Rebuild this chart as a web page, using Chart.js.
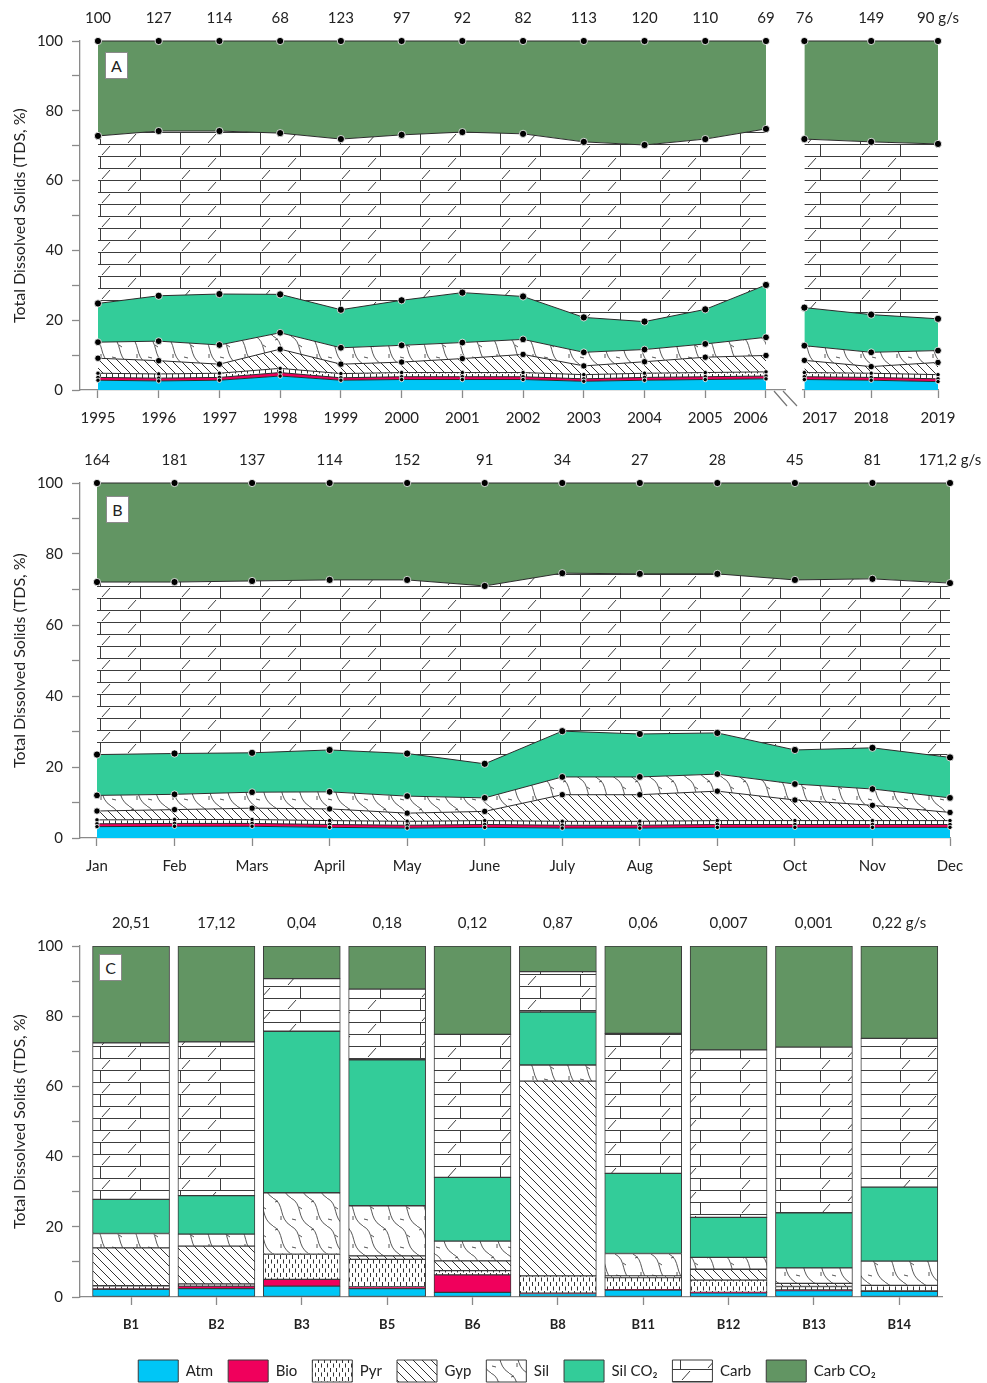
<!DOCTYPE html>
<html>
<head>
<meta charset="utf-8">
<script src="https://cdn.jsdelivr.net/npm/chart.js@4.4.1/dist/chart.umd.min.js"></script>
<style>
    body { margin: 0; background: #fff; width: 987px; height: 1383px; position: relative; overflow: hidden; font-family: Lato, "Open Sans", sans-serif; }
    canvas { position: absolute; }
    .panel-tag { position: absolute; width: 21px; height: 25px; border: 1px solid #8a8a8a; background: #fff; font-size: 16px; line-height: 25px; text-align: center; color: #222; }
</style>
</head>
<body>
<canvas id="chartA1" width="840" height="440" style="left:0;top:0"></canvas>
<canvas id="chartA2" width="227" height="440" style="left:760px;top:0"></canvas>
<canvas id="breakMarks" width="40" height="30" style="left:765px;top:385px"></canvas>
<canvas id="chartB" width="1040" height="446" style="left:0;top:442px"></canvas>
<canvas id="chartC" width="987" height="457" style="left:0;top:890px"></canvas>
<canvas id="legendC" width="974" height="120" style="left:20px;top:1345px"></canvas>
<div class="panel-tag" style="left:105px;top:52px">A</div>
<div class="panel-tag" style="left:106px;top:496px">B</div>
<div class="panel-tag" style="left:99px;top:954px">C</div>

<script>
// 1. Data (% of TDS per source, bottom layer first)
// Panel A: yearly, 1995-2006 then 2017-2019
const yearsA = [1995, 1996, 1997, 1998, 1999, 2000, 2001, 2002, 2003, 2004, 2005, 2006, 2017, 2018, 2019];
const flowA = ['100', '127', '114', '68', '123', '97', '92', '82', '113', '120', '110', '69', '76', '149', '90 g/s'];
const atmA = [2.8, 2.6, 2.8, 4.0, 2.8, 3.0, 3.0, 3.0, 2.5, 2.8, 3.0, 3.2, 3.0, 2.8, 2.4];
const bioA = [0.8, 0.8, 0.8, 1.0, 0.7, 0.8, 0.8, 0.8, 0.7, 0.8, 0.8, 0.8, 0.8, 0.8, 0.8];
const pyrA = [1.2, 1.2, 1.2, 1.2, 1.2, 1.2, 1.2, 1.2, 1.2, 1.2, 1.2, 1.2, 1.2, 1.2, 1.2];
const gypA = [4.3, 3.8, 2.6, 5.5, 2.7, 3.0, 4.0, 5.2, 2.5, 3.3, 4.4, 4.7, 3.5, 1.9, 3.5];
const silA = [4.6, 5.6, 5.5, 4.7, 4.7, 4.8, 4.6, 4.3, 3.9, 3.5, 3.8, 5.2, 4.2, 4.1, 3.4];
const silCo2A = [11.1, 13.0, 14.6, 11.0, 10.9, 12.9, 14.3, 12.3, 10.0, 8.0, 9.9, 15.0, 10.9, 10.8, 9.1];
const carbA = [48.0, 47.2, 46.7, 46.2, 48.9, 47.4, 46.0, 46.6, 50.3, 50.6, 48.8, 44.7, 48.3, 49.5, 50.1];
const carbCo2A = [27.2, 25.8, 25.8, 26.4, 28.1, 26.9, 26.1, 26.6, 28.9, 29.8, 28.1, 25.2, 28.1, 28.9, 29.5];

// Panel B: monthly
const months = ['Jan', 'Feb', 'Mars', 'April', 'May', 'June', 'July', 'Aug', 'Sept', 'Oct', 'Nov', 'Dec'];
const flowB = ['164', '181', '137', '114', '152', '91', '34', '27', '28', '45', '81', '171,2 g/s'];
const atmB = [3.2, 3.3, 3.3, 3.0, 2.8, 3.0, 2.8, 2.8, 3.0, 3.0, 3.0, 3.0];
const bioB = [0.8, 0.8, 0.8, 0.8, 0.8, 0.8, 0.8, 0.8, 0.8, 0.8, 0.8, 0.8];
const pyrB = [1.1, 1.1, 1.1, 1.1, 1.1, 1.1, 1.1, 1.1, 1.1, 1.1, 1.1, 1.1];
const gypB = [2.5, 2.8, 3.2, 3.3, 2.3, 2.6, 7.5, 7.5, 8.3, 5.8, 4.3, 2.3];
const silB = [4.4, 4.3, 4.5, 4.8, 4.8, 3.8, 5.0, 5.0, 4.8, 4.5, 4.6, 4.1];
const silCo2B = [11.5, 11.5, 11.1, 11.8, 12.0, 9.6, 12.9, 12.1, 11.6, 9.6, 11.6, 11.4];
const carbB = [48.6, 48.3, 48.4, 47.9, 48.9, 50.1, 44.5, 45.1, 44.8, 47.9, 47.6, 49.1];
const carbCo2B = [27.9, 27.9, 27.6, 27.3, 27.3, 29.0, 25.4, 25.6, 25.6, 27.3, 27.0, 28.2];

// Panel C: sampling sites
const sites = ['B1', 'B2', 'B3', 'B5', 'B6', 'B8', 'B11', 'B12', 'B13', 'B14'];
const flowC = ['20,51', '17,12', '0,04', '0,18', '0,12', '0,87', '0,06', '0,007', '0,001', '0,22 g/s'];
const atmC = [2.2, 2.4, 3.1, 2.4, 1.3, 1.0, 2.0, 1.2, 1.8, 1.6];
const bioC = [0.1, 0.7, 1.9, 0.5, 5.0, 0.1, 0.1, 0.1, 0.2, 0.1];
const pyrC = [0.9, 0.6, 7.2, 7.8, 1.2, 4.9, 3.4, 3.5, 1.0, 1.6];
const gypC = [10.8, 10.8, 0, 1.0, 2.8, 55.5, 0.5, 3.1, 0.9, 0];
const silC = [4.1, 3.4, 17.5, 14.3, 5.6, 4.6, 6.4, 3.4, 4.4, 6.9];
const silCo2C = [9.7, 11.0, 46.0, 41.6, 18.2, 15.1, 22.8, 11.4, 15.7, 21.1];
const carbC = [44.6, 43.8, 15.0, 20.1, 40.7, 11.5, 39.9, 47.7, 47.2, 42.4];
const carbCo2C = [27.6, 27.3, 9.3, 12.3, 25.2, 7.3, 24.9, 29.6, 28.8, 26.3];

const LAYER_NAMES = ['Atm', 'Bio', 'Pyr', 'Gyp', 'Sil', 'Sil CO\u2082', 'Carb', 'Carb CO\u2082'];

// 2. Hatch patterns
function makePattern(w, h, draw) {
    const c = document.createElement('canvas');
    c.width = w; c.height = h;
    const g = c.getContext('2d');
    g.fillStyle = '#fff';
    g.fillRect(0, 0, w, h);
    g.strokeStyle = '#333';
    g.lineWidth = 1;
    draw(g);
    return g.createPattern(c, 'repeat');
}

const pyrPattern = makePattern(6, 9, g => {
    g.beginPath();
    g.moveTo(1.5, 0.5); g.lineTo(1.5, 4.5);
    g.moveTo(4.5, 5); g.lineTo(4.5, 9);
    g.stroke();
});

const gypPattern = makePattern(9, 9, g => {
    g.beginPath();
    g.moveTo(-1, -1); g.lineTo(10, 10);
    g.moveTo(-1, 8); g.lineTo(1, 10);
    g.moveTo(8, -1); g.lineTo(10, 1);
    g.stroke();
});

const silPattern = makePattern(36, 28, g => {
    g.strokeStyle = '#444';
    g.lineWidth = 0.9;
    for (const dx of [-36, 0, 36]) {
        for (const k of [0, 1]) {
            const x0 = 3 + k * 18 + dx;
            g.beginPath();
            g.moveTo(x0, 0);
            g.bezierCurveTo(x0 + 12, 6, x0 + 5, 20, x0 + 18, 28);
            g.stroke();
        }
    }
    g.beginPath();
    g.moveTo(11, 9); g.lineTo(14, 11);
    g.moveTo(29, 18); g.lineTo(29, 22);
    g.moveTo(23, 4); g.lineTo(26, 3);
    g.moveTo(4, 21); g.lineTo(8, 22);
    g.stroke();
});

const carbPattern = makePattern(80, 24, g => {
    g.strokeStyle = '#3c3c3c';
    g.beginPath();
    g.moveTo(0, 0.5); g.lineTo(80, 0.5);
    g.moveTo(0, 12.5); g.lineTo(80, 12.5);
    g.moveTo(60.5, 0); g.lineTo(60.5, 12);
    g.moveTo(20.5, 12); g.lineTo(20.5, 24);
    g.moveTo(22, 11); g.lineTo(30, 2);
    g.moveTo(48, 23); g.lineTo(56, 14);
    g.stroke();
});

const layerFills = ['#00c6f6', '#f0005c', pyrPattern, gypPattern, silPattern, '#33cc99', carbPattern, '#629563'];
const dotSizes = [2.2, 2.2, 2.2, 3.2, 3.4, 3.6, 3.6, 3.6];
const AXIS = '#8a8a8a';

Chart.defaults.font.family = 'Lato, "Open Sans", sans-serif';
Chart.defaults.color = '#222';
Chart.defaults.animation = false;
Chart.defaults.plugins.tooltip.enabled = false;

// 3. Axis helpers
function yAxis(show) {
    return {
        display: show,
        stacked: true,
        min: 0,
        max: 100,
        border: { color: AXIS, width: 1.3 },
        grid: { drawOnChartArea: false, color: AXIS, tickLength: 8, tickWidth: 1.3 },
        ticks: { stepSize: 10, font: { size: 15 }, padding: 9, callback: v => (v % 20 === 0 ? v : '') },
        title: { display: true, text: 'Total Dissolved Solids (TDS, %)', font: { size: 16 }, padding: { top: 10, bottom: 0 } },
        afterFit: s => { s.width = show ? 80 : 0; }
    };
}

function bottomAxis(vals, labels, min, max, opts) {
    return {
        type: 'linear',
        position: 'bottom',
        min: min,
        max: max,
        offset: false,
        border: { color: AXIS, width: 1.3 },
        grid: { drawOnChartArea: false, offset: false, color: AXIS, tickLength: 8, tickWidth: 1.3 },
        ticks: { autoSkip: false, maxRotation: 0, font: opts.font || { size: 15 }, padding: opts.pad, callback: (v, i) => labels[i] },
        afterBuildTicks: s => { s.ticks = vals.map(v => ({ value: v })); },
        afterFit: s => { s.height = opts.height; }
    };
}

function topAxis(vals, labels, min, max, height, pad) {
    return {
        type: 'linear',
        position: 'top',
        min: min,
        max: max,
        offset: false,
        border: { display: false },
        grid: { display: false, drawTicks: false, offset: false },
        ticks: { autoSkip: false, maxRotation: 0, font: { size: 15 }, padding: pad, callback: (v, i) => labels[i] },
        afterBuildTicks: s => { s.ticks = vals.map(v => ({ value: v })); },
        afterFit: s => { s.height = height; }
    };
}

// 4. Stacked area panels (A and B)
function makeAreaChart(canvasId, xs, xLabels, flows, layers, cfg) {
    const datasets = layers.map((vals, i) => ({
        label: LAYER_NAMES[i],
        data: vals.map((v, j) => ({ x: xs[j], y: v })),
        backgroundColor: layerFills[i],
        fill: i === 0 ? 'origin' : '-1',
        borderColor: '#2b2b2b',
        borderWidth: 1,
        pointRadius: dotSizes[i],
        pointBackgroundColor: '#000',
        pointBorderColor: '#fff',
        pointBorderWidth: 0.8,
        tension: 0,
        clip: false
    }));

    return new Chart(document.getElementById(canvasId), {
        type: 'line',
        data: { datasets },
        options: {
            responsive: false,
            layout: { padding: cfg.padding },
            plugins: { legend: { display: false } },
            scales: {
                x: bottomAxis(xs, xLabels, cfg.min, cfg.max, { height: 50, pad: 11 }),
                xTop: topAxis(xs, flows, cfg.min, cfg.max, 41, 14),
                y: yAxis(cfg.showY)
            }
        }
    });
}

const layersA = [atmA, bioA, pyrA, gypA, silA, silCo2A, carbA, carbCo2A];
const nLeft = 12;
const yearLabels = yearsA.map(String);
// nudge the two labels next to the axis break away from it
yearLabels[11] = '2006\u00a0\u00a0\u00a0\u00a0\u00a0\u00a0\u00a0\u00a0';
yearLabels[12] = '\u00a0\u00a0\u00a0\u00a0\u00a0\u00a0\u00a0\u00a02017';

makeAreaChart('chartA1', yearsA.slice(0, nLeft), yearLabels.slice(0, nLeft), flowA.slice(0, nLeft),
    layersA.map(a => a.slice(0, nLeft)),
    { min: 1994.704, max: 2006.313, showY: true, padding: { left: 0, right: 55 } });

makeAreaChart('chartA2', yearsA.slice(nLeft), yearLabels.slice(nLeft), flowA.slice(nLeft),
    layersA.map(a => a.slice(nLeft)),
    { min: 2016.97, max: 2019, showY: false, padding: { left: 40, right: 49 } });

const monthIdx = months.map((m, i) => i);
makeAreaChart('chartB', monthIdx, months, flowB,
    [atmB, bioB, pyrB, gypB, silB, silCo2B, carbB, carbCo2B],
    { min: -0.219, max: 11, showY: true, padding: { left: 0, right: 90 } });

// Axis break marks between 2006 and 2017
const bm = document.getElementById('breakMarks').getContext('2d');
bm.strokeStyle = '#777';
bm.lineWidth = 1.2;
bm.beginPath();
bm.moveTo(9, 6); bm.lineTo(22, 21);
bm.moveTo(18, 6); bm.lineTo(32, 21);
bm.stroke();

// 5. Stacked bars (C)
const layersC = [atmC, bioC, pyrC, gypC, silC, silCo2C, carbC, carbCo2C];
const siteIdx = sites.map((s, i) => i);

new Chart(document.getElementById('chartC'), {
    type: 'bar',
    data: {
        datasets: layersC.map((vals, i) => ({
            label: LAYER_NAMES[i],
            data: vals.map((v, j) => ({ x: siteIdx[j], y: v })),
            backgroundColor: layerFills[i],
            borderColor: '#3a3a3a',
            borderWidth: ctx => (ctx.raw && ctx.raw.y > 0 ? 1 : 0),
            borderSkipped: false,
            barThickness: 77
        }))
    },
    options: {
        responsive: false,
        layout: { padding: { left: 0, right: 45 } },
        plugins: { legend: { display: false } },
        scales: {
            x: Object.assign(bottomAxis(siteIdx, sites, -0.598, 9.5, { height: 50, pad: 12, font: { size: 13, weight: 'bold' } }), { stacked: true }),
            xTop: topAxis(siteIdx, flowC, -0.598, 9.5, 56, 14),
            y: yAxis(true)
        }
    }
});

// Shared legend for all panels, drawn by a legend-only chart
new Chart(document.getElementById('legendC'), {
    type: 'bar',
    data: {
        labels: [],
        datasets: LAYER_NAMES.map((name, i) => ({ label: name, data: [], backgroundColor: layerFills[i], borderColor: '#3a3a3a', borderWidth: 1 }))
    },
    options: {
        responsive: false,
        scales: { x: { display: false }, y: { display: false } },
        plugins: {
            legend: {
                position: 'top',
                labels: { boxWidth: 40, boxHeight: 22, padding: 15, font: { size: 15 } }
            }
        }
    }
});
</script>
</body>
</html>
